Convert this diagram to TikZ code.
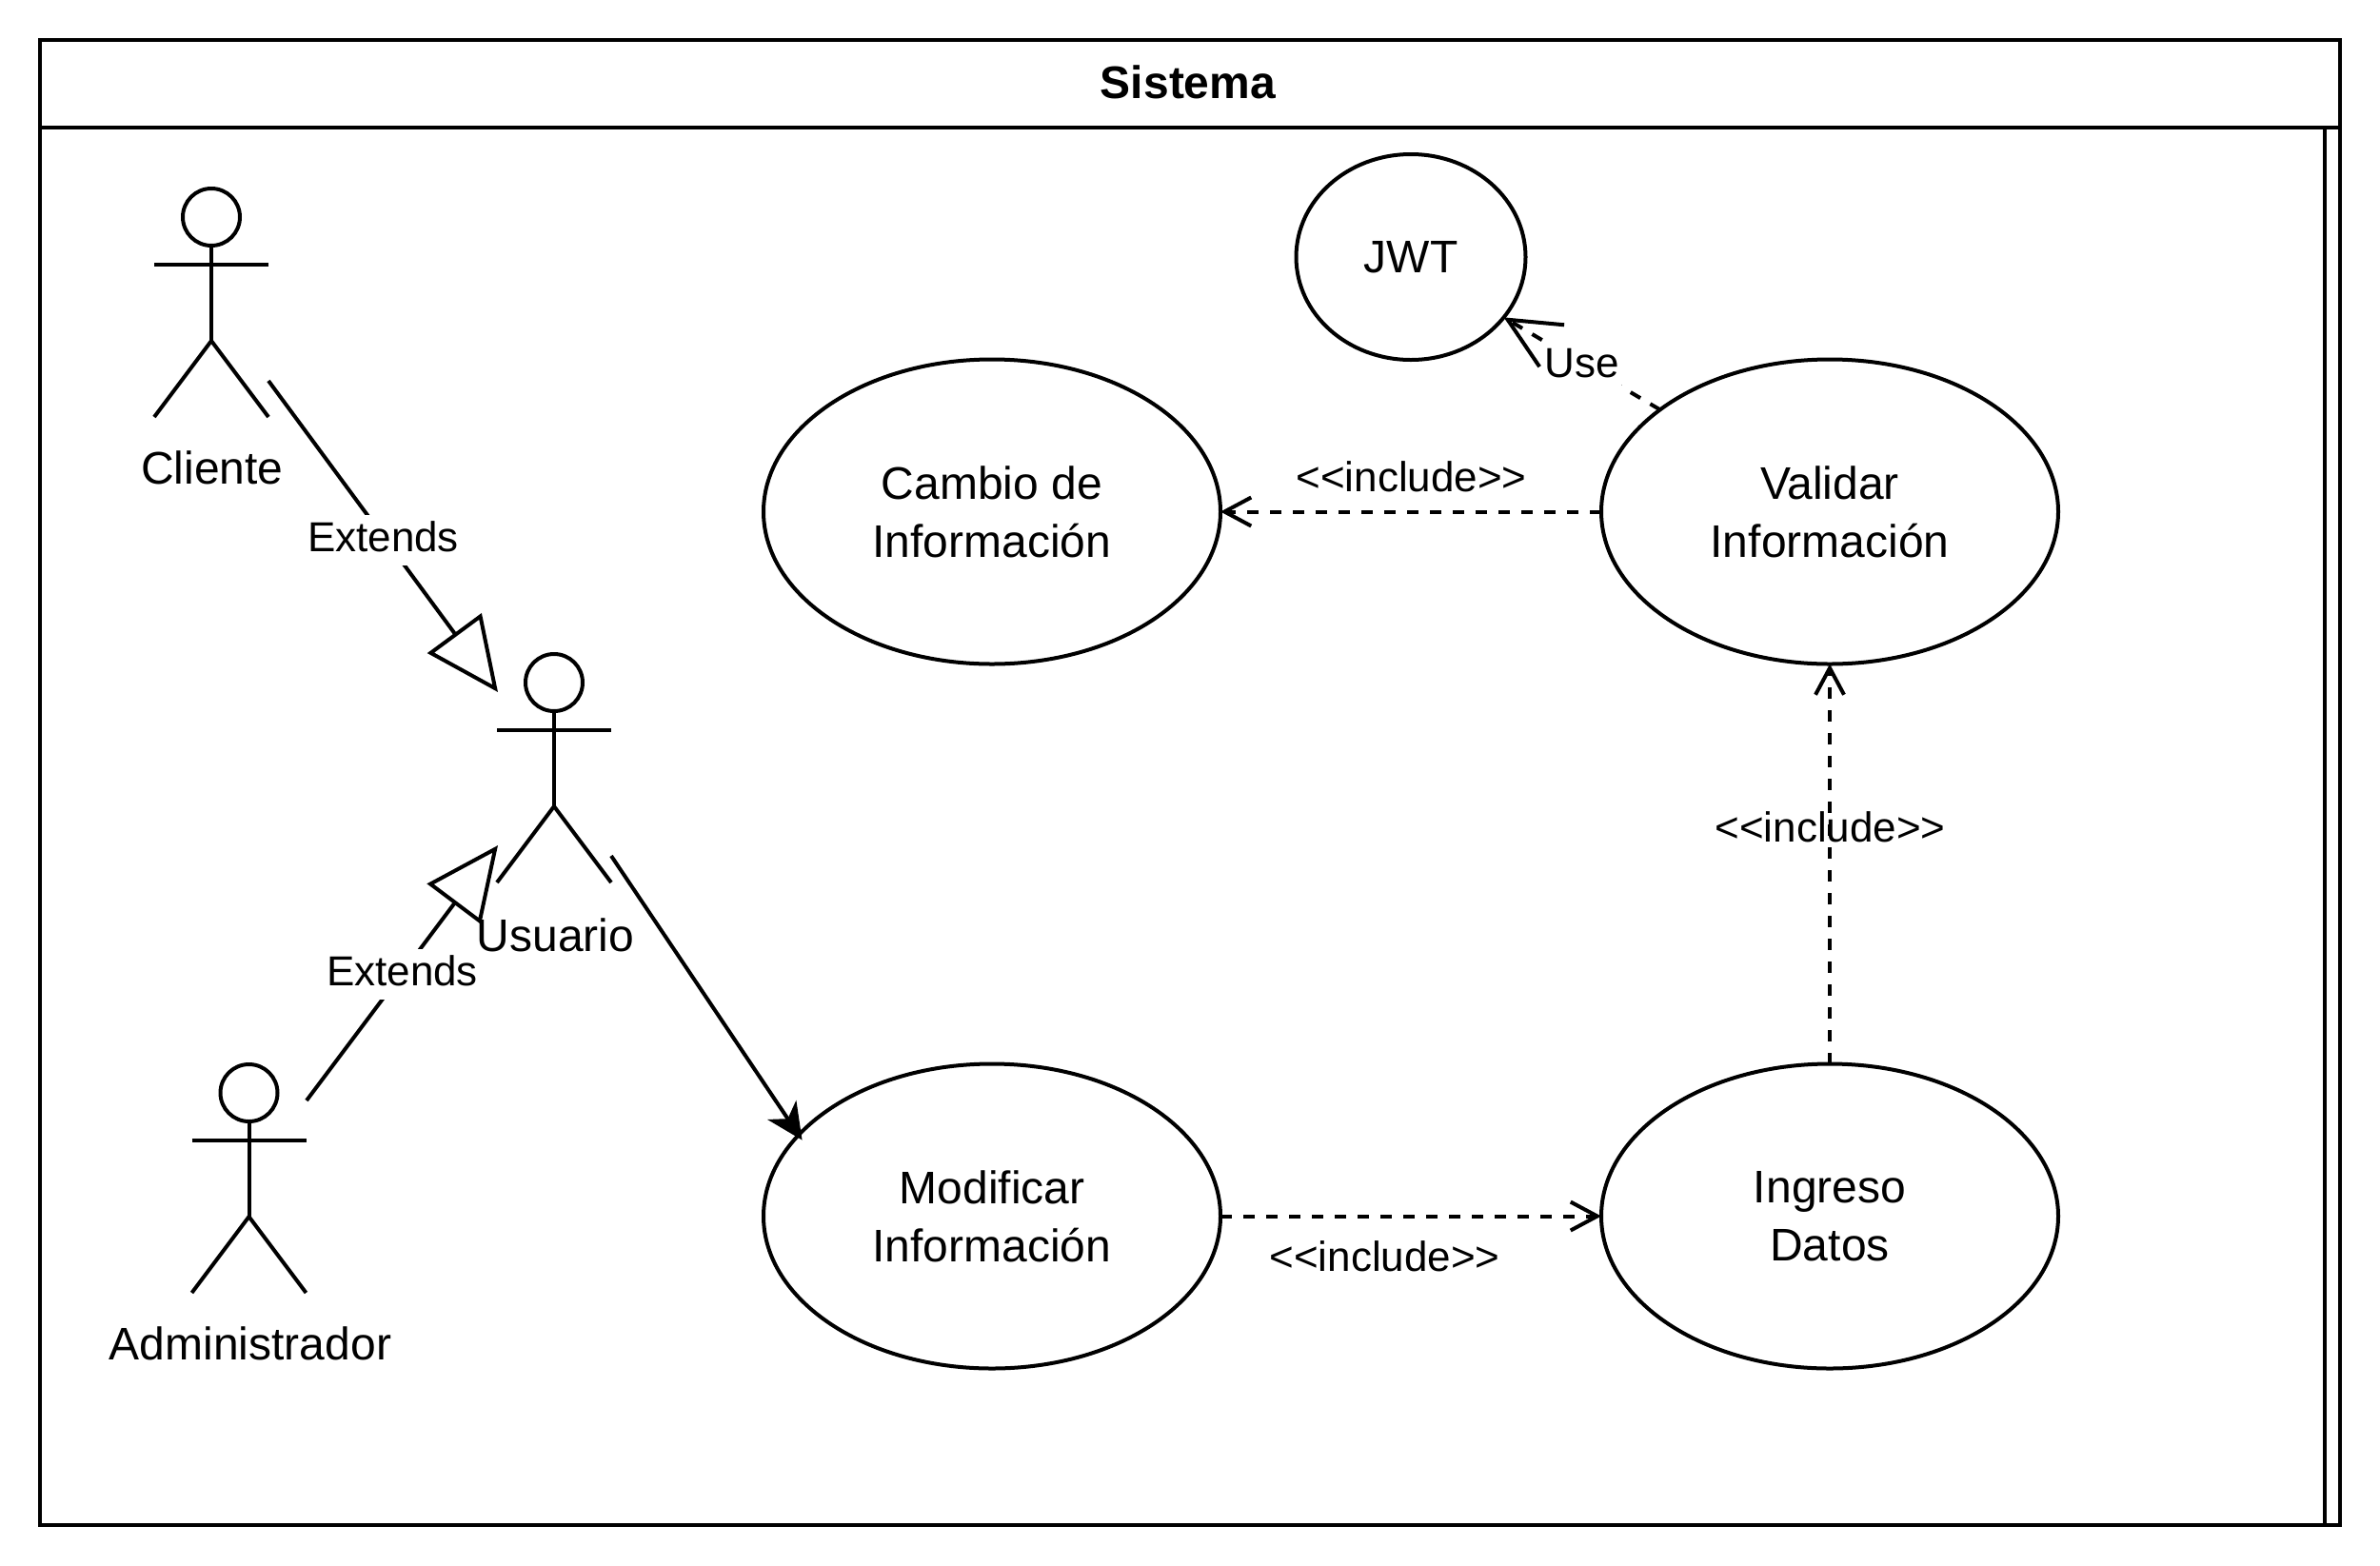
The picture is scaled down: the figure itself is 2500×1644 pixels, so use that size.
\documentclass[tikz,border=0pt]{standalone}
\usepackage{fontspec}
\setmainfont{Liberation Sans}
\usetikzlibrary{arrows.meta,shapes.geometric}
\newcommand{\incl}{<\kern0pt<include>\kern0pt>}
\newcommand{\stickactor}[6]{% name, cx, top, label, label x, label y
  \node[actorbox] (#1) at (#2,#3+120) {};
  \node[actorhead] (#1head) at (#2,#3+30) {};
  \coordinate (#1hip) at (#2,#3+160);
  \draw[ln] (#1head.south) -- (#1hip);
  \draw[ln] ([yshift=40pt]#1.west) -- ([yshift=40pt]#1.east);
  \draw[ln,line join=miter] (#1.south west) -- (#1hip) -- (#1.south east);
  \node[actorname] (#1name) at (#5,#6) {#4};
}
\tikzset{
  x=1pt,y=-1pt,
  ln/.style={line width=4pt,black},
  usecase/.style={ellipse,draw,ln,inner sep=0pt,outer sep=0pt,align=center,font=\fontsize{48}{61}\selectfont,minimum width=480pt,minimum height=320pt},
  actorbox/.style={rectangle,inner sep=0pt,outer sep=0pt,minimum width=120pt,minimum height=240pt},
  actorhead/.style={circle,draw,ln,inner sep=0pt,outer sep=0pt,minimum size=60pt},
  actorname/.style={font=\fontsize{48}{58}\selectfont,inner sep=0pt},
  edgelabel/.style={font=\fontsize{44}{52}\selectfont,inner xsep=2pt,inner ysep=6pt,text height=32pt,text depth=9pt,fill=white},
  plainlabel/.style={font=\fontsize{44}{52}\selectfont,inner sep=0pt},
  depend/.style={ln,dash pattern=on 12pt off 12pt,-{Straight Barb[length=28pt,width=30pt,line width=4pt]}},
  dependbig/.style={ln,dash pattern=on 12pt off 12pt,-{Straight Barb[length=54pt,width=51pt,line width=4pt]}},
  inherit/.style={ln,-{Triangle[open,length=77pt,width=70pt,line width=4pt]}},
  assoc/.style={ln,-{Stealth[length=38pt,width=36pt,inset=11pt]}},
}
\begin{document}
\begin{tikzpicture}
\useasboundingbox (0,0) rectangle (2500,1644);
\fill[white] (0,0) rectangle (2500,1644);
% frame
\node[draw,ln,rectangle,inner sep=0pt,outer sep=0pt,minimum width=2416pt,minimum height=1560pt] (frame) at (1250,822) {};
\coordinate (titleL) at (42,134);
\coordinate (titleR) at (2458,134);
\coordinate (innerT) at (2442,134);
\coordinate (innerB) at (2442,1602);
\draw[ln] (titleL) -- (titleR);
\draw[ln] (innerT) -- (innerB);
\node[font=\fontsize{48}{58}\selectfont\bfseries,inner sep=0pt] (title) at (1248,86) {Sistema};
% use cases
\node[usecase,minimum width=241pt,minimum height=216pt] (jwt) at (1482,270) {JWT};
\node[usecase] (cambio) at (1042,537.5) {Cambio de\\Información};
\node[usecase] (validar) at (1922,537.5) {Validar\\Información};
\node[usecase] (modificar) at (1042,1277.5) {Modificar\\Información};
\node[usecase] (ingreso) at (1922,1277.5) {Ingreso\\Datos};
% actors
\stickactor{cliente}{222}{198}{Cliente}{223}{491}
\stickactor{usuario}{582}{687}{Usuario}{583.5}{982}
\stickactor{admin}{261.5}{1118}{Administrador}{263}{1411}
% free ends
\coordinate (clienteOut) at (282,400);
\coordinate (usuarioInA) at (523,727);
\coordinate (adminOut) at (322,1156);
\coordinate (usuarioInB) at (523,888);
\coordinate (usuarioOut) at (642,899);
\coordinate (modTip) at ([shift={(3,6)}]modificar.157.5);
% connectors
\draw[inherit] (clienteOut) -- (usuarioInA);
\draw[inherit] (adminOut) -- (usuarioInB);
\draw[assoc] (usuarioOut) -- (modTip);
\draw[depend] (modificar.east) -- (ingreso.west);
\draw[depend] (ingreso.north) -- (validar.south);
\draw[depend] (validar.west) -- (cambio.east);
\draw[dependbig] (validar.149) -- (jwt.-33.7);
% labels
\node[edgelabel] (extA) at (402.5,567.5) {Extends};
\node[edgelabel] (extB) at (422.5,1023.5) {Extends};
\node[edgelabel] (useL) at (1662,385) {Use};
\node[plainlabel] (inclA) at (1482.5,500.5) {\incl};
\node[plainlabel] (inclB) at (1922.5,869) {\incl};
\node[plainlabel] (inclC) at (1454.5,1320) {\incl};
\end{tikzpicture}
\end{document}
